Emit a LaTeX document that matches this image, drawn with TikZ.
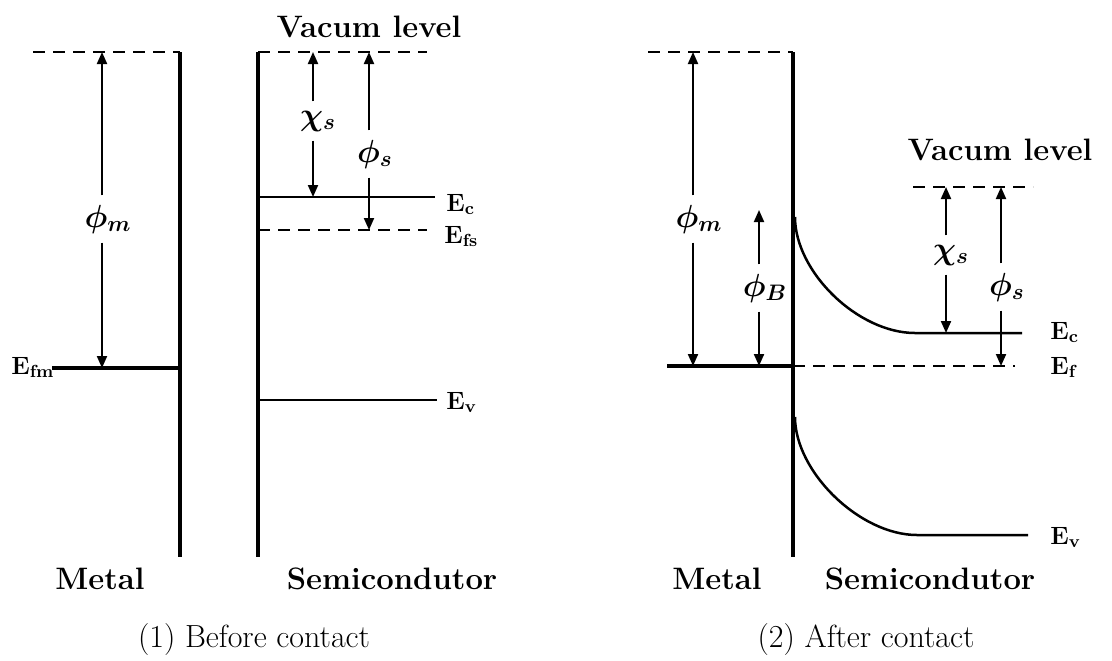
\RequirePackage{fix-cm}
\documentclass[tikz,border=0pt]{standalone}
\usepackage{amsmath,bm}
\usepackage{fontspec}
\usetikzlibrary{arrows.meta}
\begin{document}
\begin{tikzpicture}[x=0.5pt,y=-0.5pt,
  bar/.style={line width=2.25pt},
  lvl/.style={line width=1.25pt},
  fermi/.style={line width=2pt},
  dsh/.style={line width=1.25pt, dash pattern=on 6pt off 4pt},
  arr/.style={line width=1pt, -{Triangle[length=6pt,width=5pt]}},
  glab/.style={inner xsep=0pt, inner ysep=4.5pt, font=\fontsize{16}{18}\selectfont},
  elab/.style={inner sep=0pt, anchor=base west, font=\fontsize{12.5}{14}\selectfont\bfseries},
  ttl/.style={inner sep=0pt, anchor=base, font=\fontsize{15.5}{18}\selectfont\bfseries},
  capt/.style={inner sep=0pt, anchor=base, font=\fontsize{16}{19}\selectfont},
]
\useasboundingbox (0,0) rectangle (1112,660);

% ---------------- (1) Before contact ----------------
\coordinate (mDL) at (33,52);
\coordinate (mT) at (180,52);
\coordinate (mB) at (180,557);
\coordinate (fL) at (52,368);
\coordinate (fR) at (180,368);
\draw[dsh] (mDL) -- (mT);
\draw[bar] (mT) -- (mB);
\draw[fermi] (fL) -- (fR);
\node[elab] (efm) at (11,374) {E\textsubscript{fm}};

\coordinate (pmT) at (102,52);
\coordinate (pmB) at (102,368);
\node[glab] (pm1) at (108,219) {$\bm{\phi_m}$};
\draw[arr] (pm1.north -| pmT) -- (pmT);
\draw[arr] (pm1.south -| pmB) -- (pmB);

\coordinate (sT) at (258,52);
\coordinate (sB) at (258,557);
\coordinate (vR1) at (427,52);
\draw[bar] (sT) -- (sB);
\draw[dsh] (sT) -- (vR1);
\node[ttl] (vac1) at (369,37) {Vacum level};

\coordinate (ecL1) at (258,197);
\coordinate (ecR1) at (435,197);
\coordinate (efL1) at (258,230);
\coordinate (efR1) at (427,230);
\coordinate (evL1) at (258,400);
\coordinate (evR1) at (437,400);
\draw[lvl] (ecL1) -- (ecR1);
\draw[dsh] (efL1) -- (efR1);
\draw[lvl] (evL1) -- (evR1);

\coordinate (xsT1) at (313,52);
\coordinate (xsB1) at (313,197);
\node[glab] (xs1) at (318,121) {$\bm{\chi_s}$};
\draw[arr] (xs1.north -| xsT1) -- (xsT1);
\draw[arr] (xs1.south -| xsB1) -- (xsB1);

\coordinate (psT1) at (369,52);
\coordinate (psB1) at (369,230);
\node[glab] (ps1) at (375,154) {$\bm{\phi_s}$};
\draw[arr] (ps1.north -| psT1) -- (psT1);
\draw[arr] (ps1.south -| psB1) -- (psB1);

\node[elab] (ec1) at (446,211) {E\textsubscript{c}};
\node[elab] (efs) at (444,243) {E\textsubscript{fs}};
\node[elab] (ev1) at (446,409) {E\textsubscript{v}};

\node[ttl] (metal1) at (100,589) {Metal};
\node[ttl] (semi1) at (392,589) {Semicondutor};
\node[capt] (cap1) at (254,647) {(1) Before contact};

% ---------------- (2) After contact ----------------
\coordinate (mDL2) at (648,52);
\coordinate (jT) at (793,52);
\coordinate (jB) at (793,557);
\draw[dsh] (mDL2) -- (jT);
\draw[bar] (jT) -- (jB);

\coordinate (fL2) at (667,366);
\coordinate (fJ) at (793,366);
\coordinate (fR2) at (1015,366);
\draw[fermi] (fL2) -- (fJ);
\draw[dsh] (fJ) -- (fR2);

\coordinate (pmT2) at (693,52);
\coordinate (pmB2) at (693,366);
\node[glab] (pm2) at (699,219) {$\bm{\phi_m}$};
\draw[arr] (pm2.north -| pmT2) -- (pmT2);
\draw[arr] (pm2.south -| pmB2) -- (pmB2);

\coordinate (pbT) at (759,210);
\coordinate (pbB) at (759,366);
\node[glab] (pb) at (765,288) {$\bm{\phi_B}$};
\draw[arr] (pb.north -| pbT) -- (pbT);
\draw[arr] (pb.south -| pbB) -- (pbB);

\coordinate (ecS) at (795,217);
\coordinate (ecK) at (915,333);
\coordinate (ecR2) at (1022,333);
\draw[lvl] (ecS) .. controls (795,272) and (858,333) .. (ecK) -- (ecR2);

\coordinate (evS) at (795,417);
\coordinate (evK) at (917,535);
\coordinate (evR2) at (1028,535);
\draw[lvl] (evS) .. controls (795,472) and (860,535) .. (evK) -- (evR2);

\coordinate (vL2) at (913,187);
\coordinate (vR2) at (1033,187);
\draw[dsh] (vL2) -- (vR2);
\node[ttl] (vac2) at (1000,160) {Vacum level};

\coordinate (xsT2) at (946,187);
\coordinate (xsB2) at (946,333);
\node[glab] (xs2) at (951,255) {$\bm{\chi_s}$};
\draw[arr] (xs2.north -| xsT2) -- (xsT2);
\draw[arr] (xs2.south -| xsB2) -- (xsB2);

\coordinate (psT2) at (1001,187);
\coordinate (psB2) at (1001,366);
\node[glab] (ps2) at (1007,287) {$\bm{\phi_s}$};
\draw[arr] (ps2.north -| psT2) -- (psT2);
\draw[arr] (ps2.south -| psB2) -- (psB2);

\node[elab] (ec2) at (1050,339) {E\textsubscript{c}};
\node[elab] (ef2) at (1050,374) {E\textsubscript{f}};
\node[elab] (ev2) at (1050,544) {E\textsubscript{v}};

\node[ttl] (metal2) at (717,589) {Metal};
\node[ttl] (semi2) at (930,589) {Semicondutor};
\node[capt] (cap2) at (866,647) {(2) After contact};
\end{tikzpicture}
\end{document}
